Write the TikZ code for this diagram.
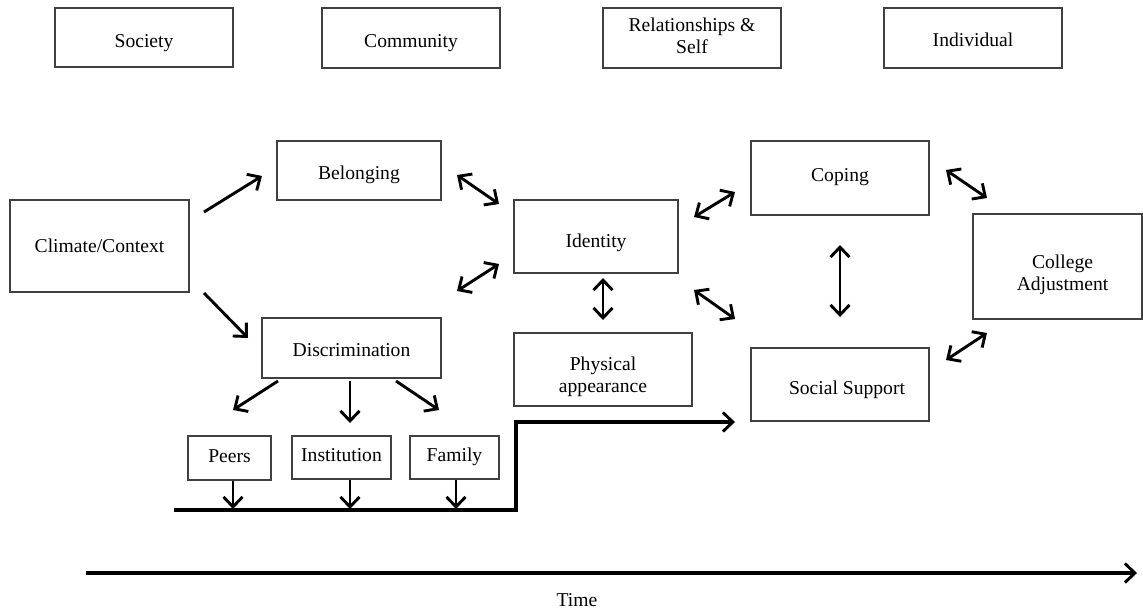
\documentclass[tikz,border=0pt]{standalone}
\usepackage{fontspec}
\setmainfont{Liberation Serif}
\usetikzlibrary{arrows.meta}
% lower a (possibly multi-line) label inside its box without resizing it
\newcommand\dn[2]{\raisebox{-#1}[\height][\depth]{\begin{tabular}{@{}c@{}}#2\end{tabular}}}
\begin{document}
\begin{tikzpicture}[x=0.5pt,y=-0.5pt,
  >={Straight Barb[length=5pt,width=9.5pt,line width=1.45pt]},
  box/.style={draw=black!75,line width=0.9pt,fill=white,align=center,
    font=\fontsize{9.8}{11}\selectfont,inner sep=0pt},
  link/.style={line width=1.45pt,->},
  dlink/.style={line width=1.45pt,<->},
  thick line/.style={line width=1.8pt,->}]
\useasboundingbox (0,0) rectangle (1143,611);

% level headings
\node[box,minimum width=89pt,minimum height=29.5pt] (society) at (144,37.5) {\dn{3pt}{Society}};
\node[box,minimum width=89pt,minimum height=30pt] (community) at (411,38) {\dn{2.5pt}{Community}};
\node[box,minimum width=89pt,minimum height=30pt] (relself) at (692,38) {\dn{0pt}{Relationships \&\\Self}};
\node[box,minimum width=89pt,minimum height=30pt] (individual) at (973,38) {\dn{2pt}{Individual}};

% model boxes
\node[box,minimum width=82pt,minimum height=29.5pt] (belonging) at (359,170.5) {\dn{2.5pt}{Belonging}};
\node[box,minimum width=89.5pt,minimum height=46pt] (climate) at (99.5,246) {\dn{1pt}{Climate/Context}};
\node[box,minimum width=82pt,minimum height=36.5pt] (identity) at (596,236.5) {\dn{3.5pt}{Identity}};
\node[box,minimum width=89pt,minimum height=37pt] (coping) at (840,178) {\dn{-0.5pt}{Coping}};
\node[box,minimum width=84.5pt,minimum height=52.5pt] (college) at (1057.5,266.5) {\dn{4.5pt}{\hspace*{5pt}College\\\hspace*{5pt}Adjustment}};
\node[box,minimum width=89.5pt,minimum height=30pt] (discrim) at (351.5,348) {\dn{2pt}{Discrimination}};
\node[box,minimum width=89pt,minimum height=36.5pt] (physical) at (603,369.5) {\dn{4pt}{Physical\\appearance}};
\node[box,minimum width=89pt,minimum height=36.5pt] (support) at (840,384.5) {\dn{3pt}{\hspace*{7pt}Social Support}};
\node[box,minimum width=41.5pt,minimum height=22pt] (peers) at (229.5,458) {\dn{0pt}{Peers}};
\node[box,minimum width=49.5pt,minimum height=21.5pt] (institution) at (341.5,457.5) {\dn{0pt}{Institution}};
\node[box,minimum width=44.5pt,minimum height=21.5pt] (family) at (454.5,457.5) {\dn{0pt}{Family}};

% arrow end points
\coordinate (c1a) at (204,212); \coordinate (c1b) at (262,176);
\coordinate (c2a) at (204,293); \coordinate (c2b) at (248,338);
\coordinate (bi1) at (457,175); \coordinate (bi2) at (499,204);
\coordinate (id1) at (457,291); \coordinate (id2) at (499,264);
\coordinate (ic1) at (694,217); \coordinate (ic2) at (735,192);
\coordinate (is1) at (694,290); \coordinate (is2) at (735,319);
\coordinate (ip1) at (603,278); \coordinate (ip2) at (603,320);
\coordinate (cs1) at (840,245); \coordinate (cs2) at (840,317);
\coordinate (ca1) at (946,170); \coordinate (ca2) at (987,198);
\coordinate (sa1) at (946,360); \coordinate (sa2) at (987,333);
\coordinate (d1a) at (278,381); \coordinate (d1b) at (233,410);
\coordinate (d2a) at (350,381); \coordinate (d2b) at (350,423);
\coordinate (d3a) at (396,381); \coordinate (d3b) at (439,410);
\coordinate (pbase) at (233,509);
\coordinate (ibase) at (350,509);
\coordinate (fbase) at (456,509);
\coordinate (lstart) at (174,510);
\coordinate (lstep) at (516,510);
\coordinate (lend) at (735,422);
\coordinate (tstart) at (86,573);
\coordinate (tend) at (1137,573);

% connectors
\draw[link] (c1a) -- (c1b);
\draw[link] (c2a) -- (c2b);
\draw[dlink] (bi1) -- (bi2);
\draw[dlink] (id1) -- (id2);
\draw[dlink] (ic1) -- (ic2);
\draw[dlink] (is1) -- (is2);
\draw[dlink] (ip1) -- (ip2);
\draw[dlink] (cs1) -- (cs2);
\draw[dlink] (ca1) -- (ca2);
\draw[dlink] (sa1) -- (sa2);
\draw[link] (d1a) -- (d1b);
\draw[link] (d2a) -- (d2b);
\draw[link] (d3a) -- (d3b);
\draw[link] (peers.south -| pbase) -- (pbase);
\draw[link] (institution.south -| ibase) -- (ibase);
\draw[link] (family.south -| fbase) -- (fbase);

% pathway line
\draw[thick line] (lstart) -- (lstep) |- (lend);

% time axis
\draw[thick line] (tstart) -- (tend);
\node[font=\fontsize{9.8}{11}\selectfont] (time) at (577,600) {Time};
\end{tikzpicture}
\end{document}
